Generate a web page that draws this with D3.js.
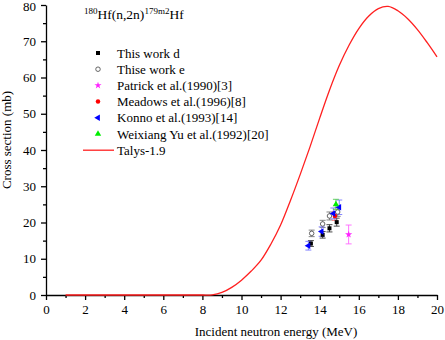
<!DOCTYPE html>
<html>
<head>
<meta charset="utf-8">
<script src="https://cdn.jsdelivr.net/npm/d3@7"></script>
<style>
  body { margin: 0; background: #fff; }
</style>
</head>
<body>
<div id="chart"></div>
<script>
// Talys-1.9 calculation (energy MeV, cross section mb)
const talysE = [1, 2, 3, 4, 5, 6, 7, 8, 8.5, 9, 9.5, 10, 10.5, 11, 11.5, 12, 12.5, 13, 13.5, 14, 14.5, 15, 15.5, 16, 16.5, 17, 17.5, 18, 18.5, 19, 19.5, 20];
const talysXS = [0, 0, 0, 0, 0, 0, 0, 0, 0.05, 0.7, 2.1, 4.1, 6.6, 9.6, 14.0, 19.3, 26.0, 33.2, 40.8, 48.8, 56.5, 63.3, 68.9, 73.5, 76.9, 79.0, 79.6, 78.4, 76.2, 73.2, 69.6, 65.7];

// measured points: energy, cross section, error
const workD = [[13.55, 14.2, 0.8], [14.15, 16.6, 0.9], [14.5, 18.4, 1.0], [14.87, 20.1, 1.1]];
const workE = [[13.59, 17.0, 0.9], [14.15, 19.6, 1.0], [14.5, 21.8, 1.1], [14.92, 22.9, 1.2]];
const patrick = [[15.48, 16.7, 2.6]];
const meadows = [[14.78, 21.8, 1.2]];
const konno = [[13.42, 13.6, 1.2], [14.1, 17.5, 1.3], [14.7, 22.5, 1.5], [15.0, 24.2, 2.0]];
const weixiang = [[14.83, 25.0, 1.4]];

const xTicks = [0, 2, 4, 6, 8, 10, 12, 14, 16, 18, 20];
const yTicks = [0, 10, 20, 30, 40, 50, 60, 70, 80];

const legendNames = ["This work d", "Thise work e", "Patrick et al.(1990)[3]", "Meadows et al.(1996)[8]",
  "Konno et al.(1993)[14]", "Weixiang Yu et al.(1992)[20]", "Talys-1.9"];

const serif = "Times New Roman, Liberation Serif, DejaVu Serif, serif";

const margin = {top: 5, right: 8, bottom: 45, left: 46},
    width = 445 - margin.left - margin.right,
    height = 340 - margin.top - margin.bottom;

const x = d3.scaleLinear().domain([0, 20]).range([0, width]);
const y = d3.scaleLinear().domain([0, 80]).range([height, 0]);

const svg = d3.select("#chart").append("svg")
    .attr("width", 445)
    .attr("height", 340)
    .append("g")
    .attr("transform", "translate(" + margin.left + "," + margin.top + ")");

// minor ticks first
svg.append("g")
    .attr("transform", "translate(0," + height + ")")
    .call(d3.axisBottom(x).tickValues(d3.range(1, 20, 2)).tickSize(3).tickFormat(""))
    .call(g => g.select(".domain").remove());
svg.append("g")
    .call(d3.axisLeft(y).tickValues(d3.range(5, 80, 10)).tickSize(3).tickFormat(""))
    .call(g => g.select(".domain").remove());

const xAxis = svg.append("g")
    .attr("transform", "translate(0," + height + ")")
    .call(d3.axisBottom(x).tickValues(xTicks).tickSize(5).tickSizeOuter(0).tickPadding(5));

const yAxis = svg.append("g")
    .call(d3.axisLeft(y).tickValues(yTicks).tickSize(5).tickSizeOuter(0).tickPadding(5));

svg.selectAll(".domain, .tick line").attr("stroke", "#000").attr("stroke-width", 1.3);
svg.selectAll("g").attr("font-family", serif);
svg.selectAll(".tick text")
    .attr("font-family", serif)
    .attr("font-size", 13)
    .attr("fill", "#000");

// top label sits right at the edge, nudge it down a touch
yAxis.selectAll(".tick text")
    .filter(function(d) { return d === 80; })
    .attr("dy", "0.42em");

// talys curve
const line = d3.line()
    .curve(d3.curveCatmullRom)
    .x(function(d, i) { return x(talysE[i]); })
    .y(function(d) { return y(d); });

svg.append("path")
    .datum(talysXS)
    .attr("fill", "none")
    .attr("stroke", "#ff2020")
    .attr("stroke-width", 1.3)
    .attr("d", line);

function errorBars(data, color) {
    const g = svg.append("g").attr("stroke", color).attr("stroke-width", 0.9);
    data.forEach(function(d) {
        const cx = x(d[0]), top = y(d[1] + d[2]), bot = y(d[1] - d[2]);
        g.append("line").attr("x1", cx).attr("x2", cx).attr("y1", top).attr("y2", bot);
        g.append("line").attr("x1", cx - 3).attr("x2", cx + 3).attr("y1", top).attr("y2", top);
        g.append("line").attr("x1", cx - 3).attr("x2", cx + 3).attr("y1", bot).attr("y2", bot);
    });
}

const symbols = {
    square: d3.symbol().type(d3.symbolSquare).size(16),
    circle: d3.symbol().type(d3.symbolCircle).size(16),
    star: d3.symbol().type(d3.symbolStar).size(16),
    tri: d3.symbol().type(d3.symbolTriangle).size(18)
};

const series = [
    {data: workD, type: "square", fill: "#000", stroke: "none", err: "#333", rot: 0},
    {data: workE, type: "circle", fill: "#fff", stroke: "#555", err: "#777", rot: 0},
    {data: patrick, type: "star", fill: "#ff22ff", stroke: "none", err: "#ff66ff", rot: 0},
    {data: meadows, type: "circle", fill: "#ff0000", stroke: "none", err: "#ff6666", rot: 0},
    {data: konno, type: "tri", fill: "#0000ff", stroke: "none", err: "#7777ff", rot: -90},
    {data: weixiang, type: "tri", fill: "#00ee00", stroke: "none", err: "#55cc55", rot: 0}
];

series.forEach(function(s) {
    errorBars(s.data, s.err);
});
series.forEach(function(s) {
    svg.selectAll(null)
        .data(s.data)
        .enter()
        .append("path")
        .attr("d", symbols[s.type]())
        .attr("fill", s.fill)
        .attr("stroke", s.stroke)
        .attr("stroke-width", s.stroke === "none" ? 0 : 0.9)
        .attr("transform", function(d) {
            return "translate(" + x(d[0]) + "," + y(d[1]) + ") rotate(" + s.rot + ")";
        });
});

// title
const title = svg.append("text")
    .attr("x", 38)
    .attr("y", 14)
    .attr("font-family", serif)
    .attr("font-size", 13.5)
    .attr("fill", "#000");
title.append("tspan").attr("dy", "-5").attr("font-size", 9).text("180");
title.append("tspan").attr("dy", "5").text("Hf(n,2n)");
title.append("tspan").attr("dy", "-5").attr("font-size", 9).text("179m2");
title.append("tspan").attr("dy", "5").text("Hf");

// legend
const legend = svg.append("g");
legendNames.forEach(function(name, i) {
    const ly = 48 + i * 16.2;
    if (i < series.length) {
        const s = series[i];
        legend.append("path")
            .attr("d", symbols[s.type]())
            .attr("fill", s.fill)
            .attr("stroke", s.stroke)
            .attr("stroke-width", s.stroke === "none" ? 0 : 0.9)
            .attr("transform", "translate(52," + ly + ") rotate(" + s.rot + ")");
    } else {
        legend.append("line")
            .attr("x1", 37).attr("x2", 68)
            .attr("y1", ly).attr("y2", ly)
            .attr("stroke", "#ff2020").attr("stroke-width", 1.3);
    }
    legend.append("text")
        .attr("x", 71)
        .attr("y", ly)
        .attr("dy", "0.35em")
        .attr("font-family", serif)
        .attr("font-size", 13)
        .attr("fill", "#000")
        .text(name);
});

// axis labels
svg.append("text")
    .attr("x", 230)
    .attr("y", height + 41)
    .attr("text-anchor", "middle")
    .attr("font-family", serif)
    .attr("font-size", 13)
    .attr("fill", "#000")
    .text("Incident neutron energy (MeV)");

svg.append("text")
    .attr("transform", "rotate(-90)")
    .attr("x", -135)
    .attr("y", -35)
    .attr("text-anchor", "middle")
    .attr("font-family", serif)
    .attr("font-size", 13)
    .attr("fill", "#000")
    .text("Cross section (mb)");
</script>
</body>
</html>
